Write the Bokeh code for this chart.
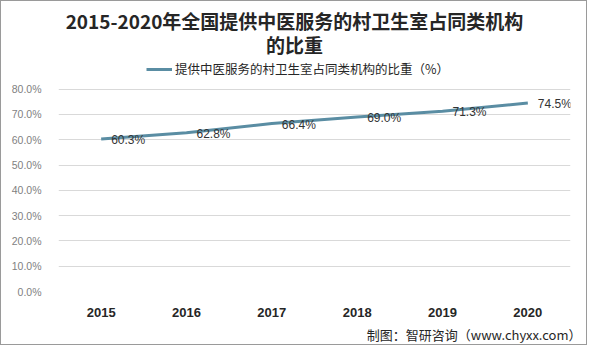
from bokeh.plotting import figure
from bokeh.models import (FactorRange, Range1d, PrintfTickFormatter, FixedTicker,
                          Title, Label, ColumnDataSource, Legend, LegendItem)
from bokeh.core.properties import value
from bokeh.embed import file_html
from bokeh.resources import INLINE

years = ["2015", "2016", "2017", "2018", "2019", "2020"]
share = [60.3, 62.8, 66.4, 69.0, 71.3, 74.5]
share_labels = ["60.3%", "62.8%", "66.4%", "69.0%", "71.3%", "74.5%"]
y_ticks = [0, 10, 20, 30, 40, 50, 60, 70, 80]

title_1 = "2015-2020年全国提供中医服务的村卫生室占同类机构"
title_2 = "的比重"
legend_text = "提供中医服务的村卫生室占同类机构的比重（%）"
source_text = "制图：智研咨询（www.chyxx.com）"

W, H = 587, 345
LEFT, RIGHT, BOTTOM = 57, 18, 54
FB = H - BOTTOM          # frame bottom (canvas px); frame top is the canvas top
TOP80 = 88               # canvas y where the 80% gridline sits
Y_MAX = 80 * FB / (FB - TOP80)
LINE_COLOR = "#5A8DA3"
CJK = "Noto Sans CJK SC"

p = figure(width=W, height=H, x_range=FactorRange(*years), y_range=Range1d(0, Y_MAX),
           output_backend="svg", toolbar_location=None,
           min_border_left=LEFT, min_border_right=RIGHT,
           min_border_top=0, min_border_bottom=BOTTOM)
p.styles = {"border": "1px solid #9a9a9a"}
p.outline_line_color = None
p.background_fill_color = "white"
p.border_fill_color = "white"

p.xgrid.grid_line_color = None
p.ygrid.grid_line_color = "#d9d9d9"
p.ygrid.grid_line_width = 1

p.yaxis.ticker = FixedTicker(ticks=y_ticks)
p.yaxis.formatter = PrintfTickFormatter(format="%.1f%%")
p.yaxis.axis_line_color = None
p.yaxis.major_tick_line_color = None
p.yaxis.minor_tick_line_color = None
p.yaxis.major_label_text_color = "#7f7f7f"
p.yaxis.major_label_text_font = "Liberation Sans"
p.yaxis.major_label_text_font_size = "10.5px"
p.yaxis.major_label_standoff = 11

p.xaxis.axis_line_color = None
p.xaxis.major_tick_line_color = None
p.xaxis.major_label_text_color = "#262626"
p.xaxis.major_label_text_font = "Liberation Sans"
p.xaxis.major_label_text_font_style = "bold"
p.xaxis.major_label_text_font_size = "13px"
p.xaxis.major_label_standoff = 10

src = ColumnDataSource(dict(x=years, y=share, lab=share_labels))
r = p.line("x", "y", source=src, line_color=LINE_COLOR, line_width=3)
p.text("x", "y", text="lab", source=src, x_offset=27, y_offset=1,
       text_align="center", text_baseline="middle", text_color="#333333",
       text_font=value("Liberation Sans"), text_font_size="12px")

def add_label(cx, cy, text, size, style="normal", color="#262626", align="left"):
    # cx, cy in canvas px from top-left; Label screen units are frame-relative (y up)
    p.add_layout(Label(x=cx - LEFT, y=FB - cy, x_units="screen", y_units="screen",
                       text=text, text_font=CJK, text_font_size=size,
                       text_font_style=style, text_color=color, text_align=align,
                       text_baseline="middle"))

add_label(293, 20, title_1, "19px", "bold", align="center")
add_label(293, 44, title_2, "19px", "bold", align="center")

legend = Legend(items=[LegendItem(label=legend_text, renderers=[r])],
                location=(145 - LEFT, FB - 78),
                glyph_width=26, glyph_height=14, label_height=14, label_standoff=3,
                padding=0, spacing=0, margin=0,
                border_line_color=None, background_fill_alpha=0,
                label_text_font=CJK, label_text_font_size="12.5px",
                label_text_color="#262626", label_text_baseline="middle")
p.add_layout(legend, "center")

p.add_layout(Title(text=source_text, align="right", standoff=6, offset=-11,
                   text_font=CJK, text_font_size="13px", text_font_style="normal",
                   text_color="#262626"), "below")

open("out.html", "w").write(file_html(p, INLINE))
